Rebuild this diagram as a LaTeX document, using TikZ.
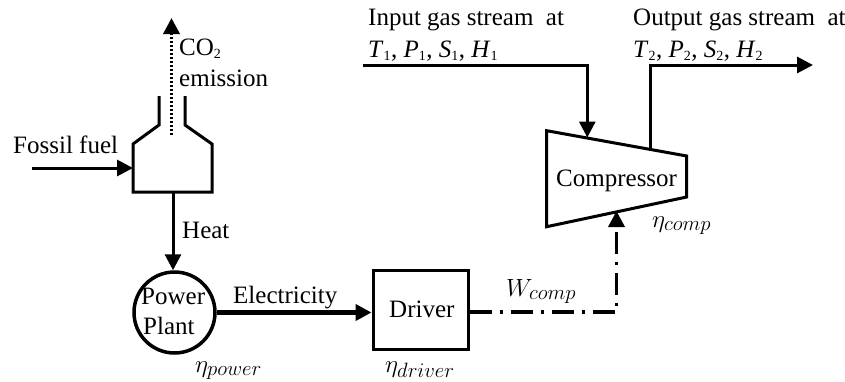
\documentclass[tikz,border=0pt]{standalone}
\usepackage{fontspec}
\setmainfont{Liberation Serif}
\usetikzlibrary{arrows.meta}
\newcommand{\sbs}[1]{\textsubscript{\fontsize{14}{14}\selectfont\upshape #1}}
\tikzset{
  x=1pt,y=-1pt,
  lbl/.style={anchor=base west,inner sep=0pt,font=\fontsize{25}{29}\selectfont},
  eqn/.style={anchor=base west,inner sep=0pt,font=\fontsize{28}{32}\selectfont},
  shape line/.style={draw=black,line width=3pt,line join=miter},
  flow/.style={draw=black,line width=3pt,-{Triangle[length=16pt,width=16pt]}},
  heavyflow/.style={draw=black,line width=4.5pt,-{Triangle[length=16pt,width=16pt]}},
  dotflow/.style={draw=black,line width=3.5pt,dash pattern=on 2pt off 2pt,-{Triangle[length=16pt,width=16pt]}},
  workflow/.style={draw=black,line width=3.5pt,dash pattern=on 22pt off 8pt on 3pt off 8pt,-{Triangle[length=16pt,width=16pt]}},
}
\begin{document}
\begin{tikzpicture}
\useasboundingbox (0,0) rectangle (845,381);
% furnace
\coordinate (stackL) at (159,96);
\coordinate (shL) at (159,125);
\coordinate (wL) at (133,144);
\coordinate (bL) at (133,192);
\coordinate (bR) at (212,192);
\coordinate (wR) at (212,144);
\coordinate (shR) at (185,125);
\coordinate (stackR) at (185,96);
\draw[shape line] (stackL) -- (shL) -- (wL) -- (bL) -- (bR) -- (wR) -- (shR) -- (stackR);
\coordinate (co2start) at (171.5,135);
\coordinate (co2end) at (171.5,18);
\draw[dotflow] (co2start) -- (co2end);
\coordinate (fuelstart) at (32,168);
\coordinate (fuelend) at (133,168);
\draw[flow] (fuelstart) -- (fuelend);
% power plant
\node[circle,draw=black,line width=3.5pt,minimum size=81pt,inner sep=0pt] (plant) at (174.5,312.5) {};
\coordinate (heatstart) at (173,192);
\draw[flow] (heatstart) -- (plant.north -| heatstart);
% driver
\node[draw=black,line width=3pt,minimum width=95pt,minimum height=79pt,inner sep=0pt] (driver) at (420.5,309.5) {};
\draw[heavyflow] (plant.east) -- (driver.west |- plant.east);
% compressor
\coordinate (c1) at (546.7,130.7);
\coordinate (c2) at (686.7,156);
\coordinate (c3) at (686.7,197);
\coordinate (c4) at (546.7,226.7);
\draw[shape line] (c1) -- (c2) -- (c3) -- (c4) -- cycle;
\coordinate (instart) at (363,65);
\coordinate (inbend) at (587.3,65);
\coordinate (inend) at (587.3,137.5);
\draw[flow] (instart) -- (inbend) -- (inend);
\coordinate (outstart) at (650,149.5);
\coordinate (outbend) at (650,65);
\coordinate (outend) at (813,65);
\draw[flow] (outstart) -- (outbend) -- (outend);
\coordinate (workbend) at (616.5,312);
\coordinate (workend) at (616.5,211);
\draw[workflow] (driver.east |- workbend) -- (workbend) -- (workend);
% labels
\node[lbl] (t1) at (179,55) {CO\sbs{2}};
\node[lbl] (t2) at (179,86) {emission};
\node[lbl] (t3) at (13,153) {Fossil fuel};
\node[lbl] (t4) at (182,238) {Heat};
\node[lbl] (t5) at (233,303) {Electricity};
\node[lbl] (t6) at (141,304) {Power};
\node[lbl] (t7) at (143,334) {Plant};
\node[lbl] (t8) at (389,317) {Driver};
\node[lbl] (t9) at (556,186) {Compressor};
\node[lbl] (t10) at (368,25) {Input gas stream\ \ at};
\node[lbl] (t11) at (368,57) {\textit{T}\sbs{1}, \textit{P}\sbs{1}, \textit{S}\sbs{1}, \textit{H}\sbs{1}};
\node[lbl] (t12) at (633,25) {Output gas stream\ \ at};
\node[lbl] (t13) at (633,57) {\textit{T}\sbs{2}, \textit{P}\sbs{2}, \textit{S}\sbs{2}, \textit{H}\sbs{2}};
\node[eqn] (e1) at (195,372) {$\eta_{power}$};
\node[eqn] (e2) at (385,372) {$\eta_{driver}$};
\node[eqn] (e3) at (652,227) {$\eta_{comp}$};
\node[eqn] (e4) at (506,296) {$W_{comp}$};
\end{tikzpicture}
\end{document}
